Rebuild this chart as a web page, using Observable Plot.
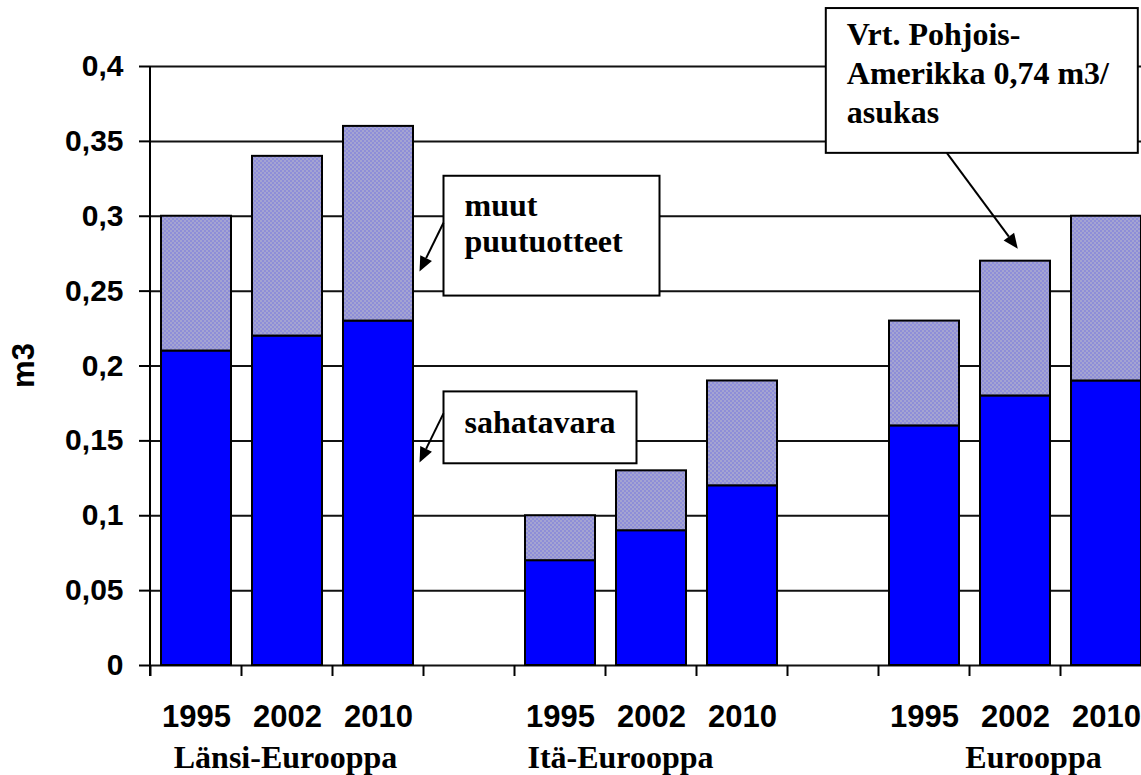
<!DOCTYPE html>
<html><head><meta charset="utf-8">
<script src="https://cdn.jsdelivr.net/npm/d3@7"></script>
<script src="https://cdn.jsdelivr.net/npm/@observablehq/plot@0.6"></script>
<style>
html,body{margin:0;padding:0;background:#fff;overflow:hidden;}
</style></head><body><div id="chart"></div>
<script>
// ---- data ----
const groups = ["Länsi-Eurooppa", "Itä-Eurooppa", "Eurooppa"];
const years = ["1995", "2002", "2010"];
const sahatavara = [[0.21, 0.22, 0.23], [0.07, 0.09, 0.12], [0.16, 0.18, 0.19]];
const muut = [[0.09, 0.12, 0.13], [0.03, 0.04, 0.07], [0.07, 0.09, 0.11]];
const yTicks = [0, 0.05, 0.1, 0.15, 0.2, 0.25, 0.3, 0.35, 0.4];
const yLabel = "m3";
const seriesNames = ["sahatavara", "muut puutuotteet"];
const noteText = ["Vrt. Pohjois-", "Amerikka 0,74 m3/", "asukas"];

// ---- build table ----
const cats = [];
const rows = [];
groups.forEach((g, gi) => {
  years.forEach((yr, yi) => {
    const key = g + "|" + yr;
    cats.push(key);
    rows.push({key, group: g, year: yr, saw: sahatavara[gi][yi], other: muut[gi][yi], total: sahatavara[gi][yi] + muut[gi][yi]});
  });
  if (gi < groups.length - 1) cats.push("gap" + gi);
});

const SANS = "'Liberation Sans', Arial, sans-serif";
const SERIF = "'Liberation Serif', 'Times New Roman', serif";

const plot = Plot.plot({
  width: 1141, height: 775,
  marginTop: 66, marginBottom: 110, marginLeft: 150, marginRight: 0,
  style: {background: "white", fontFamily: SANS, color: "#000"},
  x: {domain: cats, range: [150, 1152], paddingInner: 0.23, paddingOuter: 0.115, axis: null},
  y: {domain: [0, 0.4], axis: null},
  marks: [
    Plot.ruleY(yTicks, {stroke: "#111", strokeWidth: 2}),
    Plot.barY(rows, {x: "key", y1: 0, y2: "saw", fill: "#0000ff", stroke: "#000", strokeWidth: 2}),
    Plot.barY(rows, {x: "key", y1: "saw", y2: "total", fill: "url(#dots)", stroke: "#000", strokeWidth: 2}),
    Plot.axisY({ticks: yTicks, tickSize: 11, tickPadding: 16, strokeWidth: 2,
      tickFormat: d => String(d).replace(".", ","), fontSize: 30, fontWeight: "bold", label: null}),
    Plot.axisX({tickSize: 0, tickPadding: 39, fontSize: 31, fontWeight: "bold", label: null,
      tickFormat: d => d.startsWith("gap") ? "" : d.split("|")[1]})
  ]
});
document.getElementById("chart").appendChild(plot);

// ---- extras drawn from scales ----
const svg = d3.select(plot);
svg.selectAll('[aria-label="x-axis tick label"]').attr("font-size", 31);
svg.selectAll('[aria-label="y-axis tick label"]').attr("font-size", 30);
const xs = plot.scale("x"), ys = plot.scale("y");
const X = k => xs.apply(k);
const Y = v => ys.apply(v);
const step = xs.step, bw = xs.bandwidth;
const outer = (step - bw) / 2;

// pattern for "muut puutuotteet"
const defs = svg.insert("defs", ":first-child");
const pat = defs.append("pattern").attr("id", "dots").attr("width", 4).attr("height", 4).attr("patternUnits", "userSpaceOnUse");
pat.append("rect").attr("width", 4).attr("height", 4).attr("fill", "#8e8ed8");
pat.append("rect").attr("x", 0).attr("y", 0).attr("width", 2).attr("height", 2).attr("fill", "#a4a4d2");
pat.append("rect").attr("x", 2).attr("y", 2).attr("width", 2).attr("height", 2).attr("fill", "#a4a4d2");

const g = svg.append("g").attr("text-anchor", "start");
// y axis line
g.append("line").attr("x1", 150).attr("x2", 150).attr("y1", Y(0.4)).attr("y2", Y(0) + 11)
  .attr("stroke", "#000").attr("stroke-width", 2);
// x boundary ticks
cats.forEach(c => {
  const x = X(c) - outer;
  g.append("line").attr("x1", x).attr("x2", x).attr("y1", Y(0)).attr("y2", Y(0) + 11)
    .attr("stroke", "#000").attr("stroke-width", 2);
});
// y label
g.append("text").attr("transform", `translate(34,${(Y(0) + Y(0.4)) / 2}) rotate(-90)`)
  .attr("text-anchor", "middle").attr("font-family", SANS).attr("font-weight", "bold")
  .attr("font-size", 31).text(yLabel);
// group labels
const groupDx = [-1.5, -30.5, 18.5];
groups.forEach((gname, i) => {
  const k = gname + "|2002";
  g.append("text").attr("x", X(k) + bw / 2 + groupDx[i]).attr("y", Y(0) + 103)
    .attr("text-anchor", "middle").attr("font-family", SERIF).attr("font-weight", "bold")
    .attr("font-size", 32).text(gname);
});

// annotations: x offsets relative to a category band start, y in data units
function arrow(x1, y1, x2, y2) {
  const a = Math.atan2(y2 - y1, x2 - x1), L = 15, w = 6.5;
  const bx = x2 - L * Math.cos(a), by = y2 - L * Math.sin(a);
  g.append("line").attr("x1", x1).attr("y1", y1).attr("x2", bx).attr("y2", by)
    .attr("stroke", "#000").attr("stroke-width", 2);
  const px = -Math.sin(a) * w, py = Math.cos(a) * w;
  g.append("path").attr("d", `M${x2},${y2}L${bx + px},${by + py}L${bx - px},${by - py}Z`).attr("fill", "#000");
}
function note(o) {
  const x0 = X(o.cat);
  g.append("rect").attr("x", x0 + o.bx[0]).attr("y", Y(o.by[0]))
    .attr("width", o.bx[1] - o.bx[0]).attr("height", Y(o.by[1]) - Y(o.by[0]))
    .attr("fill", "#fff").attr("stroke", "#000").attr("stroke-width", 2);
  o.lines.forEach((t, i) => {
    g.append("text").attr("x", x0 + o.tx).attr("y", Y(o.ty[i])).attr("font-family", SERIF)
      .attr("text-anchor", "start").attr("font-weight", "bold").attr("font-size", o.size).text(t);
  });
  arrow(x0 + o.ax[0], Y(o.ay[0]), x0 + o.ax[1], Y(o.ay[1]));
}
note({cat: "gap0", lines: ["muut", "puutuotteet"], bx: [9.5, 225.5], by: [0.3267, 0.2467],
  tx: 30.5, ty: [0.3, 0.276], size: 32, ax: [9.5, -14.5], ay: [0.2953, 0.2627]});
note({cat: "gap0", lines: [seriesNames[0]], bx: [9.5, 202.5], by: [0.1827, 0.1347],
  tx: 30.5, ty: [0.1547], size: 32, ax: [9.5, -14.5], ay: [0.168, 0.1353]});
note({cat: "Eurooppa|1995", lines: noteText, bx: [-63.2, 248.8], by: [0.4387, 0.342],
  tx: -42.2, ty: [0.414, 0.388, 0.362], size: 32, ax: [57.8, 128.8], ay: [0.342, 0.278]});
</script></body></html>
